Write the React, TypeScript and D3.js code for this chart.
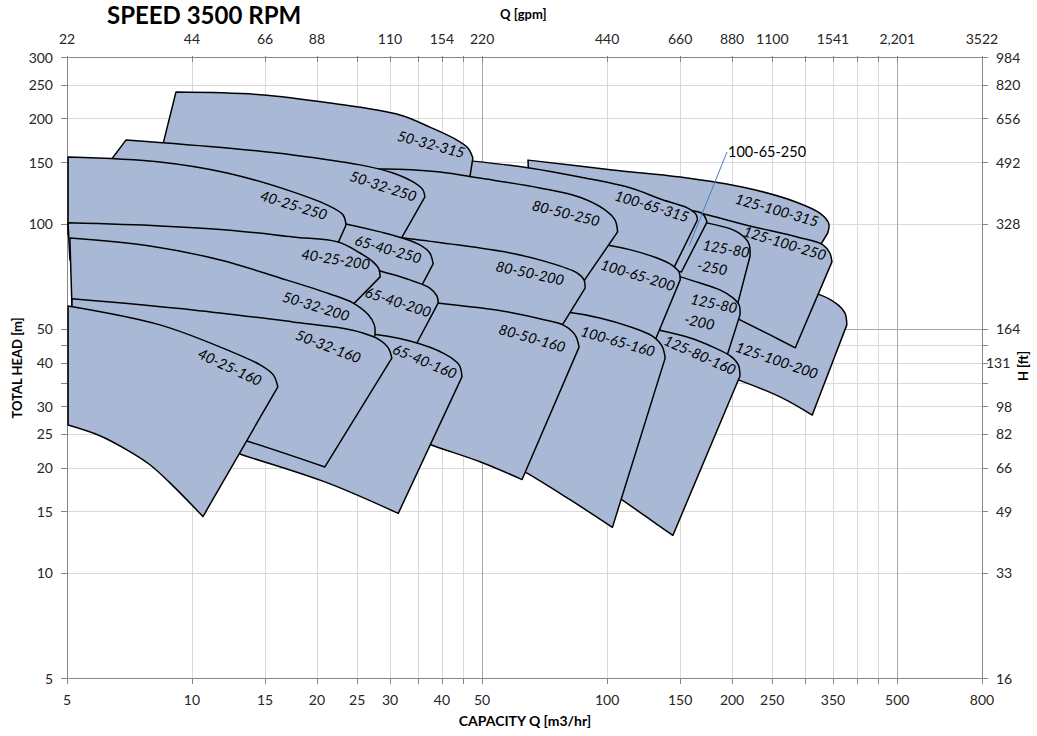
import React from "react";
import * as d3 from "d3";

type Pt = [number, number]; // [Q m3/h, H m]

// ---- axes ----
const X_DOMAIN: [number, number] = [5, 800];
const Y_DOMAIN: [number, number] = [5, 300];
const xMinorGrid = [10, 15, 20, 25, 30, 35, 40, 45, 100, 150, 200, 250, 300, 350, 400, 450];
const xMajorGrid = [50, 500];
const yMinorGrid = [10, 15, 20, 25, 30, 35, 40, 45, 100, 150, 200, 250];
const yMajorGrid = [50];
const xTickLabels = [5, 10, 15, 20, 25, 30, 40, 50, 100, 150, 200, 250, 350, 500, 800];
const yTickLabels = [300, 250, 200, 150, 100, 50, 40, 30, 25, 20, 15, 10, 5];
const ftTickText = ["984", "820", "656", "492", "328", "164", "131", "98", "82", "66", "49", "33", "16"];
const gpmTickAt = [5, 10, 15, 20, 30, 40, 50, 100, 150, 200, 250, 350, 500, 800];
const gpmTickText = ["22", "44", "66", "88", "110", "154", "220", "440", "660", "880", "1100", "1541", "2,201", "3522"];

// ---- pump coverage boundaries: top = max impeller run-out (incl. rounded end), bottom = min impeller ----
const p125_100_200_top: Pt[] = [[192, 66.8], [261, 65.9], [326, 62.5], [360, 58.5], [374, 55.5], [378, 51.3]];
const p125_100_200_bot: Pt[] = [[312, 28.3], [261, 31.9], [207, 35.7], [182, 37.6]];
const p125_100_315_top: Pt[] = [[64.5, 152], [103, 142.5], [150, 136], [217, 126.5], [287, 115], [326, 107], [342, 100], [340, 94]];
const p125_100_315_bot: Pt[] = [[319, 83], [221, 93], [167, 99], [96, 109.5], [65, 113]];
const p125_100_250_top: Pt[] = [[134, 113], [167.5, 107.3], [217, 99], [287, 91.6], [331, 87], [344, 82.4], [348, 77.7]];
const p125_100_250_bot: Pt[] = [[284, 44.1], [247, 48], [209, 53], [167.5, 60.5], [142, 64.6]];
const p125_80_250_top: Pt[] = [[142, 106], [174, 100.5], [201, 96], [215, 91], [220, 87], [221, 80.8]];
const p125_80_250_bot: Pt[] = [[204, 56], [167.5, 62.5], [142, 68]];
const p125_80_200_top: Pt[] = [[134, 72.7], [150, 70.4], [167.5, 67.6], [187, 64.6], [201, 61.3], [208, 58.5], [209, 54.8]];
const p125_80_200_bot: Pt[] = [[191, 39.1], [158, 44.1], [134, 47.1]];
const p125_80_160_top: Pt[] = [[114, 51.3], [133, 49.6], [158, 47.1], [180, 44.3], [198, 41.8], [207, 39.4], [209, 36.6]];
const p125_80_160_bot: Pt[] = [[144, 12.8], [123, 14.6], [107, 16.4], [96, 17.9]];
const p100_65_250_top: Pt[] = [[102, 128], [134, 117], [158, 109.5], [170, 106.6], [174, 101]];
const p100_65_250_bot: Pt[] = [[151, 72.7], [120, 77.7], [102, 81.3]];
const p100_65_315_top: Pt[] = [[41.8, 153], [47.5, 151], [65, 144.4], [86, 136], [114, 126.5], [136, 117], [156, 111], [164, 106], [165, 102.4]];
const p100_65_315_bot: Pt[] = [[144, 73.7], [107, 81.3], [77, 89.8], [49.4, 106]];
const p100_65_200_top: Pt[] = [[81.4, 89.8], [100, 86.9], [114, 84.1], [132, 79.7], [143, 76.2], [149, 72.7], [150, 69]];
const p100_65_200_bot: Pt[] = [[130, 45.8], [96, 50.6], [81.4, 53]];
const p100_65_160_top: Pt[] = [[69, 56.6], [79.2, 55.9], [96, 53.7], [114, 50.6], [128.3, 47.7], [135.6, 44.6], [138, 41.2]];
const p100_65_160_bot: Pt[] = [[103, 13.5], [81.4, 16.2], [64.1, 19.3], [58.4, 20.4]];
const p50_32_315_top: Pt[] = [[9.15, 238], [14.6, 234], [21.5, 221.5], [31.7, 204.7], [37.4, 189], [43.0, 174.8], [46.2, 164.7], [47.5, 154.2]];
const p50_32_315_bot: Pt[] = [[46, 120.8], [31.7, 129], [18.2, 140.6], [8.33, 152]];
const p80_50_250_top: Pt[] = [[22.7, 140.6], [28.4, 143.4], [39.6, 140.6], [49.4, 135], [68.9, 126.5], [86, 119], [98.8, 109.5], [104.5, 102.4], [106, 94.7]];
const p80_50_250_bot: Pt[] = [[85, 64.6], [55.2, 74.7], [35.4, 81.3], [24, 86.9]];
const p80_50_200_top: Pt[] = [[26.9, 92], [32.1, 91], [41.8, 87.5], [58.4, 82.4], [71.6, 77.7], [84.6, 72.3], [88, 69], [88.5, 65.4]];
const p80_50_200_bot: Pt[] = [[76.2, 49], [55.2, 53], [35.4, 56.6]];
const p80_50_160_top: Pt[] = [[31.7, 60.5], [38.9, 59.3], [49.4, 57.4], [59.4, 55.5], [70.9, 53], [78.3, 51.3], [83.7, 48], [85.6, 44.3]];
const p80_50_160_bot: Pt[] = [[62.4, 18.5], [49.4, 20.8], [37.9, 23.2], [31.7, 25.3]];
const p50_32_250_top: Pt[] = [[6.94, 173.7], [12.15, 164.7], [17.5, 157.3], [25.4, 147.3], [30.5, 139.7], [34.1, 131.6], [36, 124.9], [36.4, 119.3]];
const p50_32_250_bot: Pt[] = [[30.8, 84.1], [18.2, 97.2], [10.46, 117], [6, 138]];
const p65_40_250_top: Pt[] = [[18.2, 106], [23.5, 99.8], [28.4, 94.7], [32.1, 91], [35.4, 86.9], [37.4, 82.4], [38.1, 76.7]];
const p65_40_250_bot: Pt[] = [[34.8, 62.5], [24, 71.3], [18.2, 77.7]];
const p65_40_200_top: Pt[] = [[18.2, 83], [24, 77.7], [28.4, 73.2], [33.5, 69], [37.4, 65.4], [38.9, 62.1], [39.2, 59.3]];
const p65_40_200_bot: Pt[] = [[33.9, 42.9], [24, 48], [18.2, 52.3]];
const p65_40_160_top: Pt[] = [[12.35, 50.9], [18.2, 49], [25.8, 48.6], [33.5, 46.1], [40.7, 42.3], [44, 39.4], [44.7, 36.4]];
const p65_40_160_bot: Pt[] = [[31.4, 14.8], [21.2, 18.1], [13.2, 21.8], [10.46, 24]];
const p40_25_250_top: Pt[] = [[5.03, 155.2], [8.37, 150.2], [12.15, 139.7], [17.5, 123.3], [21.2, 113], [23.1, 106], [23.5, 99.1]];
const p40_25_250_bot: Pt[] = [[22, 83], [10.46, 89.8], [5.03, 92.8]];
const p40_25_200_top: Pt[] = [[5.03, 100.5], [8.37, 98.5], [12.15, 95.9], [17.5, 91.6], [22.5, 88.6], [25.4, 82.4], [27.3, 77.7], [28.2, 74.2], [28.4, 70.4]];
const p40_25_200_bot: Pt[] = [[22.7, 53.7], [13.8, 64.6], [7.92, 73.7], [5.08, 78.7]];
const p50_32_200_top: Pt[] = [[5.08, 91], [7.92, 86.3], [11.7, 78.7], [16.3, 69.9], [21.5, 62.9], [24.4, 59.3], [26.6, 54.8], [27.5, 51.3], [27.6, 48]];
const p50_32_200_bot: Pt[] = [[25.7, 39.4], [13.8, 48], [7.92, 53.7], [5.14, 57.4]];
const p50_32_160_top: Pt[] = [[5.14, 60.9], [10.06, 56.6], [17.5, 52.3], [22.7, 50.3], [25.8, 48.6], [28.1, 46.7], [29.7, 44.1], [30.3, 41.2]];
const p50_32_160_bot: Pt[] = [[20.9, 20.1], [13.8, 23.7], [7.92, 28.9], [5.14, 32.3]];
const p40_25_160_top: Pt[] = [[5.03, 58.1], [8.37, 51.3], [12.15, 43.5], [14.6, 39.4], [15.7, 36.9], [16.1, 34.1]];
const p40_25_160_bot: Pt[] = [[10.63, 14.5], [8.85, 18.1], [7.92, 20.4], [6.97, 22.5], [6.0, 24.7], [5.03, 26.5]];

// model name, boundaries, label anchor [Q, H] and label rotation; listed in drawing order (back to front)
const pumps: { name: string; top: Pt[]; bottom: Pt[]; at: Pt; angle: number; lines?: string[] }[] = [
  { name: "125-100-200", top: p125_100_200_top, bottom: p125_100_200_bot, at: [256.6, 40.7], angle: 19 },
  { name: "125-100-315", top: p125_100_315_top, bottom: p125_100_315_bot, at: [256.6, 109.5], angle: 16 },
  { name: "125-100-250", top: p125_100_250_top, bottom: p125_100_250_bot, at: [268, 88], angle: 17 },
  { name: "125-80-250", top: p125_80_250_top, bottom: p125_80_250_bot, at: [170.3, 87.5], angle: 10, lines: ["125-80", "-250"] },
  { name: "125-80-200", top: p125_80_200_top, bottom: p125_80_200_bot, at: [159.3, 61.3], angle: 12, lines: ["125-80", "-200"] },
  { name: "125-80-160", top: p125_80_160_top, bottom: p125_80_160_bot, at: [167.5, 42.1], angle: 24 },
  { name: "100-65-250", top: p100_65_250_top, bottom: p100_65_250_bot, at: [0, 0], angle: 0, lines: [] },
  { name: "100-65-315", top: p100_65_315_top, bottom: p100_65_315_bot, at: [128.3, 112.4], angle: 17 },
  { name: "100-65-200", top: p100_65_200_top, bottom: p100_65_200_bot, at: [118.7, 71.3], angle: 17 },
  { name: "100-65-160", top: p100_65_160_top, bottom: p100_65_160_bot, at: [106.2, 46.1], angle: 16 },
  { name: "50-32-315", top: p50_32_315_top, bottom: p50_32_315_bot, at: [37.7, 169], angle: 15 },
  { name: "80-50-250", top: p80_50_250_top, bottom: p80_50_250_bot, at: [79.6, 107.3], angle: 14 },
  { name: "80-50-200", top: p80_50_200_top, bottom: p80_50_200_bot, at: [65.2, 72.3], angle: 12 },
  { name: "80-50-160", top: p80_50_160_top, bottom: p80_50_160_bot, at: [66, 47.1], angle: 16 },
  { name: "50-32-250", top: p50_32_250_top, bottom: p50_32_250_bot, at: [28.9, 128.2], angle: 18 },
  { name: "65-40-250", top: p65_40_250_top, bottom: p65_40_250_bot, at: [29.7, 84.6], angle: 16 },
  { name: "65-40-200", top: p65_40_200_top, bottom: p65_40_200_bot, at: [31.4, 59.7], angle: 18 },
  { name: "65-40-160", top: p65_40_160_top, bottom: p65_40_160_bot, at: [36.4, 40.4], angle: 23 },
  { name: "40-25-250", top: p40_25_250_top, bottom: p40_25_250_bot, at: [17.6, 113.1], angle: 17 },
  { name: "40-25-200", top: p40_25_200_top, bottom: p40_25_200_bot, at: [22.2, 79.2], angle: 9 },
  { name: "50-32-200", top: p50_32_200_top, bottom: p50_32_200_bot, at: [19.9, 58.1], angle: 17 },
  { name: "50-32-160", top: p50_32_160_top, bottom: p50_32_160_bot, at: [21.3, 44.6], angle: 21 },
  { name: "40-25-160", top: p40_25_160_top, bottom: p40_25_160_bot, at: [12.35, 38.9], angle: 25 },
];

// callout for the narrow 100-65-250 band
const calloutText = "100-65-250";
const calloutFrom: Pt = [194.5, 160.4];
const calloutTo: Pt = [157.6, 86.3];

const FONT = "Lato, 'Open Sans', 'Liberation Sans', sans-serif";
const W = 1037;
const H = 736;
const PLOT = { left: 67, right: 982, top: 57, bottom: 678 };
const FT_TITLE_BAND: [number, number] = [348, 384]; // vertical span taken by the "H [ft]" title

export default function App() {
  const x = d3.scaleLog().domain(X_DOMAIN).range([PLOT.left, PLOT.right]);
  const y = d3.scaleLog().domain(Y_DOMAIN).range([PLOT.bottom, PLOT.top]);
  const line = d3
    .line<Pt>()
    .x((d) => x(d[0]))
    .y((d) => y(d[1]))
    .curve(d3.curveCatmullRom.alpha(0.5));
  const shapePath = (top: Pt[], bottom: Pt[]) =>
    (line(top) as string) + (line(bottom) as string).replace(/^M/, "L") + "Z";
  const px = (v: number) => Math.round(x(v)) + 0.5;
  const py = (v: number) => Math.round(y(v)) + 0.5;

  const tickColor = "#868686";
  const textColor = "#262626";

  return (
    <svg
      width={W}
      height={H}
      viewBox={`0 0 ${W} ${H}`}
      style={{ position: "absolute", left: 0, top: 0, background: "#fff" }}
      fontFamily={FONT}
    >
      <rect x={0} y={0} width={W} height={H} fill="#fff" />

      {/* gridlines */}
      {xMinorGrid.map((v) => (
        <line key={"xg" + v} x1={px(v)} x2={px(v)} y1={PLOT.top} y2={PLOT.bottom} stroke="#d9d9d9" strokeWidth={1} />
      ))}
      {yMinorGrid.map((v) => (
        <line key={"yg" + v} x1={PLOT.left} x2={PLOT.right} y1={py(v)} y2={py(v)} stroke="#d9d9d9" strokeWidth={1} />
      ))}
      {xMajorGrid.map((v) => (
        <line key={"xG" + v} x1={px(v)} x2={px(v)} y1={PLOT.top} y2={PLOT.bottom} stroke="#a6a6a6" strokeWidth={1} />
      ))}
      {yMajorGrid.map((v) => (
        <line key={"yG" + v} x1={PLOT.left} x2={PLOT.right} y1={py(v)} y2={py(v)} stroke="#a6a6a6" strokeWidth={1} />
      ))}

      {/* axis frame */}
      <line x1={PLOT.left + 0.5} x2={PLOT.left + 0.5} y1={PLOT.top} y2={PLOT.bottom} stroke={tickColor} />
      <line x1={PLOT.right + 0.5} x2={PLOT.right + 0.5} y1={PLOT.top} y2={PLOT.bottom} stroke={tickColor} />
      <line x1={PLOT.left} x2={PLOT.right} y1={PLOT.bottom + 0.5} y2={PLOT.bottom + 0.5} stroke={tickColor} />
      <line x1={PLOT.left} x2={PLOT.right} y1={PLOT.top + 0.5} y2={PLOT.top + 0.5} stroke={tickColor} />

      {/* tick marks */}
      {[5, ...xMinorGrid, ...xMajorGrid, 800].map((v) => (
        <g key={"xt" + v}>
          <line x1={px(v)} x2={px(v)} y1={PLOT.bottom} y2={PLOT.bottom + 6} stroke={tickColor} />
          <line x1={px(v)} x2={px(v)} y1={PLOT.top - 1} y2={PLOT.top + 5} stroke={tickColor} />
        </g>
      ))}
      {[5, ...yMinorGrid, ...yMajorGrid, 300].map((v) => (
        <g key={"yt" + v}>
          <line x1={PLOT.left - 6} x2={PLOT.left} y1={py(v)} y2={py(v)} stroke={tickColor} />
          <line x1={PLOT.right} x2={PLOT.right + 6} y1={py(v)} y2={py(v)} stroke={tickColor} />
        </g>
      ))}

      {/* pump coverage areas */}
      {pumps.map((p) => (
        <path
          key={p.name}
          d={shapePath(p.top, p.bottom)}
          fill="#a9b9d5"
          stroke="#000"
          strokeWidth={1.5}
          strokeLinejoin="round"
        />
      ))}

      {/* area labels */}
      {pumps
        .filter((p) => !p.lines || p.lines.length > 0)
        .map((p) =>
          p.lines ? (
            <text
              key={"l" + p.name}
              transform={`translate(${x(p.at[0])},${y(p.at[1])}) rotate(${p.angle})`}
              fontSize={14.5}
              fontStyle="italic"
              fill="#000"
              dominantBaseline="central"
            >
              {p.lines.map((t, i) => (
                <tspan key={i} x={i === 0 ? 0 : -2} dy={i === 0 ? 0 : 21}>
                  {t}
                </tspan>
              ))}
            </text>
          ) : (
            <text
              key={"l" + p.name}
              transform={`translate(${x(p.at[0])},${y(p.at[1])}) rotate(${p.angle})`}
              fontSize={14.5}
              fontStyle="italic"
              textAnchor="middle"
              dominantBaseline="central"
              fill="#000"
            >
              {p.name}
            </text>
          )
        )}

      {/* callout */}
      <line
        x1={x(calloutFrom[0])}
        y1={y(calloutFrom[1])}
        x2={x(calloutTo[0])}
        y2={y(calloutTo[1])}
        stroke="#4a7ebb"
        strokeWidth={1}
      />
      <text
        x={x(calloutFrom[0]) + 1}
        y={y(calloutFrom[1])}
        fontSize={14.5}
        dominantBaseline="central"
        fill="#000"
      >
        {calloutText}
      </text>

      {/* bottom tick labels */}
      {xTickLabels.map((v) => (
        <text key={"xl" + v} x={x(v)} y={705} fontSize={14} textAnchor="middle" fill={textColor}>
          {v}
        </text>
      ))}
      {/* top (gpm) tick labels */}
      {gpmTickText.map((t, i) => (
        <text key={"gl" + t} x={x(gpmTickAt[i])} y={44} fontSize={14} textAnchor="middle" fill={textColor}>
          {t}
        </text>
      ))}
      {/* left tick labels */}
      {yTickLabels.map((v) => (
        <text key={"yl" + v} x={53} y={y(v)} fontSize={14} textAnchor="end" dominantBaseline="central" fill={textColor}>
          {v}
        </text>
      ))}
      {/* right (ft) tick labels, nudged left where the axis title sits */}
      {ftTickText.map((t, i) => {
        const ty = y(yTickLabels[i]);
        const nudge = ty > FT_TITLE_BAND[0] && ty < FT_TITLE_BAND[1] ? -10 : 0;
        return (
          <text key={"fl" + t} x={996 + nudge} y={ty} fontSize={14} dominantBaseline="central" fill={textColor}>
            {t}
          </text>
        );
      })}

      {/* titles */}
      <text x={107} y={24} fontSize={24} fontWeight={700} fill="#000">
        SPEED 3500 RPM
      </text>
      <text x={500} y={19} fontSize={13} fontWeight={700} fill="#000">
        Q [gpm]
      </text>
      <text x={525} y={726} fontSize={14} fontWeight={700} textAnchor="middle" fill="#000">
        CAPACITY Q [m3/hr]
      </text>
      <text
        transform={`translate(22,368) rotate(-90)`}
        fontSize={13}
        fontWeight={700}
        textAnchor="middle"
        fill="#000"
      >
        TOTAL HEAD [m]
      </text>
      <text
        transform={`translate(1028,366) rotate(-90)`}
        fontSize={13}
        fontWeight={700}
        textAnchor="middle"
        fill="#000"
      >
        H [ft]
      </text>
    </svg>
  );
}
